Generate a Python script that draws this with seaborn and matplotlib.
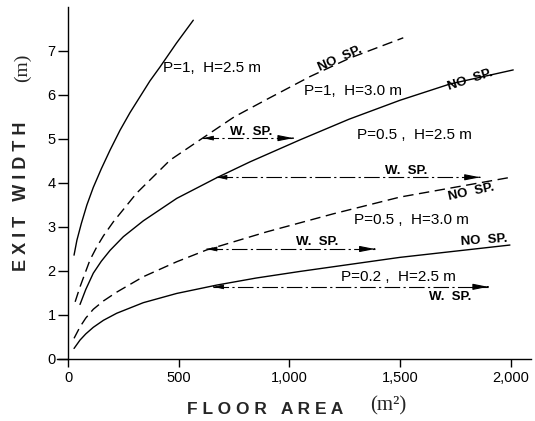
import matplotlib
matplotlib.use("Agg")
import matplotlib.pyplot as plt
import numpy as np
import pandas as pd
import seaborn as sns

# ---------------- data ----------------
# P=1, H=2.5 m  (no sprinkler, solid)
c1_x = [27, 40, 60, 85, 114, 150, 190, 235, 280, 325, 370, 416, 490, 566]
c1_y = [2.36, 2.70, 3.08, 3.50, 3.90, 4.32, 4.75, 5.20, 5.60, 5.96, 6.32, 6.64, 7.18, 7.70]
# P=1, H=3.0 m  (no sprinkler, dashed)
c2_x = [32, 54, 99, 130, 160, 205, 310, 461, 611, 750, 898, 1094, 1274, 1515]
c2_y = [1.30, 1.64, 2.25, 2.55, 2.80, 3.12, 3.77, 4.52, 5.03, 5.50, 5.90, 6.42, 6.84, 7.30]
# P=0.5, H=2.5 m (no sprinkler, solid)
c3_x = [54, 80, 114, 150, 190, 250, 340, 491, 672, 822, 1048, 1270, 1500, 1726, 2012]
c3_y = [1.24, 1.58, 1.95, 2.22, 2.47, 2.78, 3.14, 3.65, 4.12, 4.48, 4.98, 5.45, 5.88, 6.25, 6.57]
# P=0.5, H=3.0 m (no sprinkler, dashed)
c4_x = [27, 54, 80, 114, 160, 220, 340, 491, 627, 898, 1199, 1500, 2012]
c4_y = [0.47, 0.73, 0.93, 1.13, 1.32, 1.52, 1.87, 2.21, 2.48, 2.89, 3.30, 3.68, 4.14]
# P=0.2, H=2.5 m (no sprinkler, solid)
c5_x = [27, 54, 80, 114, 160, 220, 340, 491, 672, 850, 1048, 1500, 1997]
c5_y = [0.24, 0.43, 0.57, 0.72, 0.88, 1.04, 1.28, 1.49, 1.68, 1.84, 1.99, 2.31, 2.59]

curve_x = [c1_x, c2_x, c3_x, c4_x, c5_x]
curve_y = [c1_y, c2_y, c3_y, c4_y, c5_y]
curve_dashed = [False, True, False, True, False]

# "W. SP." arrows (with sprinkler: same width reaches a larger floor area)
arrow_y = [5.02, 4.13, 2.50, 1.64]
arrow_x0 = [611, 672, 627, 657]
arrow_x1 = [1018, 1862, 1387, 1899]

# annotations: text, x, y, rotation
labels = [
    ("P=1,  H=2.5 m", 651, 6.61, 0),
    ("NO  SP.", 1229, 6.83, 24),
    ("P=1,  H=3.0 m", 1290, 6.08, 0),
    ("NO  SP.", 1816, 6.34, 18),
    ("P=0.5 ,  H=2.5 m", 1564, 5.09, 0),
    ("W.  SP.", 827, 5.16, 0),
    ("W.  SP.", 1527, 4.27, 0),
    ("NO  SP.", 1820, 3.80, 12),
    ("P=0.5 ,  H=3.0 m", 1554, 3.16, 0),
    ("W.  SP.", 1125, 2.66, 0),
    ("NO  SP.", 1880, 2.70, 4),
    ("P=0.2 ,  H=2.5 m", 1491, 1.87, 0),
    ("W.  SP.", 1726, 1.42, 0),
]

xticks = [0, 500, 1000, 1500, 2000]
xtick_labels = ["0", "500", "1,000", "1,500", "2,000"]
yticks = [0, 1, 2, 3, 4, 5, 6, 7]

# ---------------- figure ----------------
sns.set_theme(style="ticks")
plt.rcParams['font.family'] = ['Liberation Sans', 'DejaVu Sans']

W, H = 535, 421
fig = plt.figure(figsize=(W / 100, H / 100), dpi=100)
ax = fig.add_axes([57 / W, 62 / H, 473.5 / W, 352 / H])

for xs, ys, dashed in zip(curve_x, curve_y, curve_dashed):
    df = pd.DataFrame({"area": xs, "width": ys})
    sns.lineplot(data=df, x="area", y="width", ax=ax, color="black",
                 lw=1.0, estimator=None, sort=True,
                 linestyle=(0, (7.5, 4)) if dashed else "-")

for y, x0, x1 in zip(arrow_y, arrow_x0, arrow_x1):
    dfa = pd.DataFrame({"area": [x0, x1], "width": [y, y]})
    sns.lineplot(data=dfa, x="area", y="width", ax=ax, color="black",
                 lw=0.8, estimator=None, linestyle=(0, (14, 3, 2, 3)))
    ax.annotate("", xy=(x1, y), xytext=(x1 - 1, y),
                arrowprops=dict(arrowstyle="-|>,head_length=0.9,head_width=0.18",
                                color="black", lw=0.8, shrinkA=0, shrinkB=0,
                                mutation_scale=10))
    ax.annotate("", xy=(x0, y), xytext=(x0 + 1, y),
                arrowprops=dict(arrowstyle="-|>,head_length=0.6,head_width=0.14",
                                color="black", lw=0.6, shrinkA=0, shrinkB=0,
                                mutation_scale=10))

for txt, x, y, rot in labels:
    bold = txt.startswith("W") or txt.startswith("NO")
    ax.text(x, y, txt, ha="center", va="center", rotation=rot,
            rotation_mode="anchor", fontsize=11 if not bold else 9.5,
            fontweight="bold" if bold else "normal", color="black")

ax.set_xlim(-50, 2090)
ax.set_ylim(0, 8.0)
ax.set_xticks(xticks)
ax.set_xticklabels(xtick_labels)
ax.set_yticks(yticks)
ax.set_xlabel("")
ax.set_ylabel("")

for s in ["top", "right"]:
    ax.spines[s].set_visible(False)
ax.spines["left"].set_position(("data", 0))
for s in ["left", "bottom"]:
    ax.spines[s].set_color("black")
    ax.spines[s].set_linewidth(1.0)

ax.tick_params(axis="y", direction="out", length=7, width=1, labelsize=10.5,
               pad=2, colors="black")
ax.tick_params(axis="x", direction="out", length=6, width=1, labelsize=10.5,
               pad=3, colors="black")

# axis titles (spaced capitals + serif unit)
fig.text(22 / W, 1 - 196 / H, "E X I T   W I D T H", rotation=90,
         ha="center", va="center", fontsize=13, fontweight="bold")
fig.text(22 / W, 1 - 68 / H, "(m)", rotation=90, ha="center", va="center",
         fontsize=14, family=["Liberation Serif", "DejaVu Serif"])
fig.text(265 / W, 1 - 409 / H, "F L O O R   A R E A", ha="center",
         va="center", fontsize=12.5, fontweight="bold")
fig.text(388 / W, 1 - 406 / H, "(m²)", ha="center", va="center",
         fontsize=15, family=["Liberation Serif", "DejaVu Serif"])

fig.savefig("out.png", dpi=100)
